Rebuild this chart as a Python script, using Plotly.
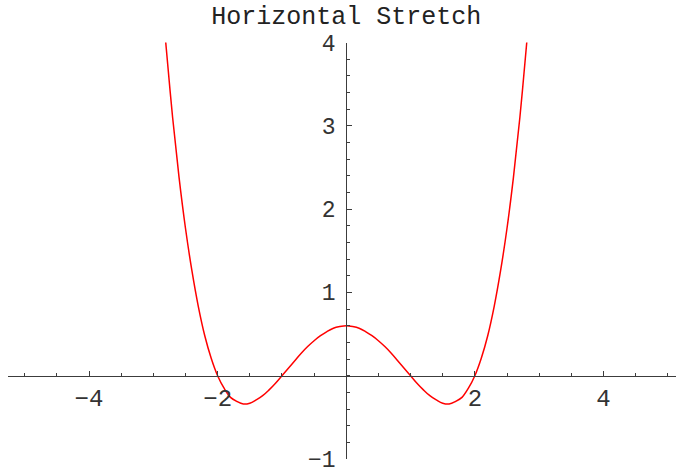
import plotly.graph_objects as go

# Curve samples (right half; the curve is symmetric about x = 0)
x_half = [0.0, 0.1, 0.2, 0.3, 0.4, 0.5, 0.6, 0.7, 0.8, 0.9,
          1.0, 1.1, 1.2, 1.3, 1.4, 1.5, 1.6, 1.7, 1.8, 1.9,
          2.0, 2.1, 2.2, 2.3, 2.4, 2.5, 2.6, 2.7, 2.8, 2.83]
y_half = [0.60, 0.59, 0.57, 0.53, 0.48, 0.42, 0.35, 0.27, 0.18, 0.09,
          0.00, -0.09, -0.17, -0.24, -0.29, -0.33, -0.34, -0.31, -0.26, -0.15,
          0.00, 0.21, 0.48, 0.83, 1.26, 1.77, 2.38, 3.10, 3.94, 4.20]

xs = [-v for v in reversed(x_half[1:])] + x_half
ys = list(reversed(y_half[1:])) + y_half

x_ticks = [-4, -2, 2, 4]
y_ticks = [-1, 1, 2, 3, 4]
title_text = "Horizontal Stretch"

W, H = 676, 467
axis_color = "#3c3c3c"
mono = "Courier New, Courier, Liberation Mono, monospace"

fig = go.Figure()
fig.add_trace(go.Scatter(x=xs, y=ys, mode="lines",
                         line=dict(color="#ff0000", width=1.5, shape="spline"),
                         hoverinfo="skip", showlegend=False))

fig.update_layout(
    width=W, height=H,
    margin=dict(l=0, r=0, t=0, b=0),
    paper_bgcolor="white", plot_bgcolor="white",
    title=dict(text=title_text, x=346.3 / W, xanchor="center",
               y=1 - 15 / H, yanchor="middle", yref="container",
               font=dict(family=mono, size=25, color="#222")),
    xaxis=dict(
        domain=[8 / W, 1], range=[-5.26, 5.128],
        anchor="free", position=91.3 / H, automargin=False,
        showline=True, linecolor=axis_color, linewidth=1.3,
        showgrid=False, zeroline=False,
        tickmode="array", tickvals=x_ticks,
        ticks="inside", ticklen=5, tickwidth=1.2, tickcolor=axis_color,
        tickfont=dict(family=mono, size=24, color="#333"),
        ticklabelstandoff=0, ticklabeloverflow="allow",
        minor=dict(tickmode="linear", tick0=0, dtick=0.5, ticks="inside",
                   ticklen=3, tickwidth=1.2, tickcolor=axis_color, showgrid=False),
    ),
    yaxis=dict(
        domain=[8 / H, 424.5 / H], range=[-1, 4],
        anchor="free", position=346.3 / W, automargin=False,
        showline=True, linecolor=axis_color, linewidth=1.3,
        showgrid=False, zeroline=False,
        tickmode="array", tickvals=y_ticks,
        ticks="inside", ticklen=5, tickwidth=1.2, tickcolor=axis_color,
        tickfont=dict(family=mono, size=23, color="#333"),
        ticklabelstandoff=6, ticklabeloverflow="allow",
        minor=dict(tickmode="linear", tick0=0, dtick=0.2, ticks="inside",
                   ticklen=3, tickwidth=1.2, tickcolor=axis_color, showgrid=False),
    ),
)

fig.write_html("out.html")
